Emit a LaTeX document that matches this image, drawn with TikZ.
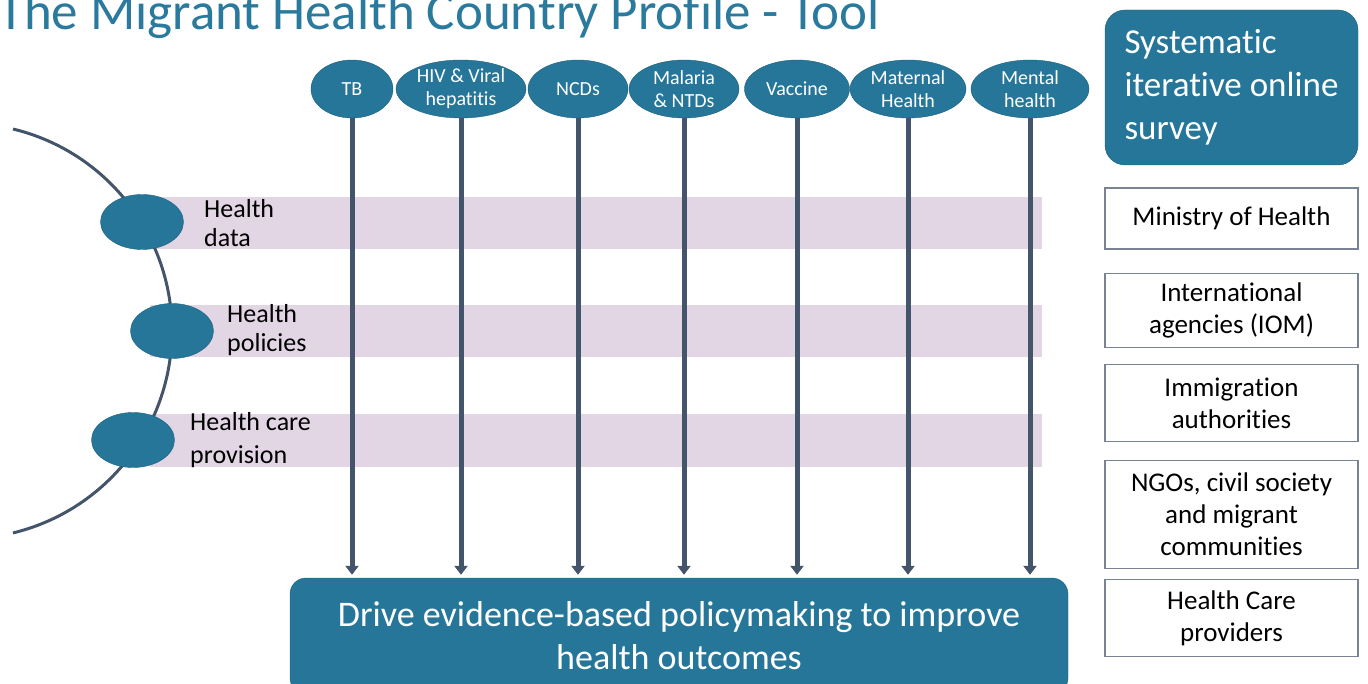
\documentclass[tikz,border=0pt]{standalone}
\usepackage{fontspec}
\setmainfont[Ligatures={NoCommon,NoContextual}]{Carlito}
\usetikzlibrary{positioning, shapes.geometric, arrows.meta}
\definecolor{migteal}{RGB}{37,118,153}
\definecolor{migedge}{RGB}{30,95,125}
\definecolor{migtitle}{RGB}{42,122,157}
\definecolor{migslate}{RGB}{68,84,106}
\definecolor{migband}{RGB}{226,214,229}
\definecolor{migbox}{RGB}{120,132,148}

\begin{document}
\begin{tikzpicture}[x=1pt, y=-1pt]
                \tikzset{topic/.style={draw=migedge, fill=migteal, shape=ellipse, text=white, align=center,
                            inner xsep=-12pt, inner ysep=-10pt, minimum height=58pt, font=\fontsize{20}{23}\selectfont},
                         area/.style={draw=migedge, fill=migteal, shape=ellipse, minimum width=83pt, minimum height=55pt},
                         areatext/.style={anchor=west, inner sep=0pt, align=left},
                         actor/.style={draw=migbox, line width=1.2pt, minimum width=253pt, align=center,
                            font=\fontsize{27}{32}\selectfont},
                         flow/.style={migslate, line width=5pt, -{Triangle[length=9pt, width=13pt]}, shorten >=3pt}}
                \useasboundingbox (0,0) rectangle (1368,684);
                \node[anchor=base west, inner sep=0pt, text=migtitle, font=\fontsize{53}{60}\selectfont] (title) at (-2,30) {The Migrant Health Country Profile - Tool};
                % bands
                \fill[migband] (150,197) rectangle (1042,249);
                \fill[migband] (150,305) rectangle (1042,357);
                \fill[migband] (150,414) rectangle (1042,467);
                \draw[migslate, line width=3pt] (13,129) arc[start angle=-76.4, end angle=76.4, radius=207.8];
                \node[area] (data) at (142,222) {};
                \node[area] (policy) at (172,331) {};
                \node[area] (care) at (133,440) {};
                \node[areatext, font=\fontsize{26}{29}\selectfont] (datatext) at (204,223.5) {Health\\data};
                \node[areatext, font=\fontsize{26}{29}\selectfont] (policytext) at (227,330.5) {Health\\policies};
                \node[areatext, font=\fontsize{26}{33}\selectfont] (caretext) at (190,440.5) {Health care\\provision};
                % topics
                \node[topic, minimum width=82pt] (TB) at (352,89) {TB};
                \node[topic, minimum width=130pt] (HIV) at (461,89) {HIV \& Viral\\hepatitis};
                \node[topic, minimum width=100pt] (NCD) at (578,89) {NCDs};
                \node[topic, minimum width=110pt] (MAL) at (684,89) {Malaria\\\& NTDs};
                \node[topic, minimum width=105pt] (VAC) at (797,89) {Vaccine};
                \node[topic, minimum width=116pt] (MAT) at (908,89) {Maternal\\Health};
                \node[topic, minimum width=118pt] (MEN) at (1030,89) {Mental\\health};
                \node[draw=migedge, fill=migteal, rounded corners=16pt, minimum width=778pt, minimum height=116pt,
                      text=white, align=center, font=\fontsize{36}{43}\selectfont] (drive) at (679,636)
                      {Drive evidence-based policymaking to improve\\health outcomes};
                \path[flow]
                    (TB) edge (TB |- drive.north)
                    (HIV) edge (HIV |- drive.north)
                    (NCD) edge (NCD |- drive.north)
                    (MAL) edge (MAL |- drive.north)
                    (VAC) edge (VAC |- drive.north)
                    (MAT) edge (MAT |- drive.north)
                    (MEN) edge (MEN |- drive.north);
                % survey and respondents
                \node[draw=migedge, fill=migteal, rounded corners=20pt, minimum width=253pt, minimum height=155pt,
                      align=left, text=white, font=\fontsize{35}{43}\selectfont] (survey) at (1231.5,87.5)
                      {Systematic\\iterative online\\survey};
                \node[actor, minimum height=61pt] (moh) at (1231.5,218.5) {Ministry of Health};
                \node[actor, minimum height=74pt, below=23pt of moh] (iom) {International\\agencies (IOM)};
                \node[actor, minimum height=77pt, below=16pt of iom] (imm) {Immigration\\authorities};
                \node[actor, minimum height=108pt, below=18pt of imm] (ngo) {NGOs, civil society\\and migrant\\communities};
                \node[actor, minimum height=77pt, below=10pt of ngo] (hcp) {Health Care\\providers};
            \end{tikzpicture}
\end{document}
